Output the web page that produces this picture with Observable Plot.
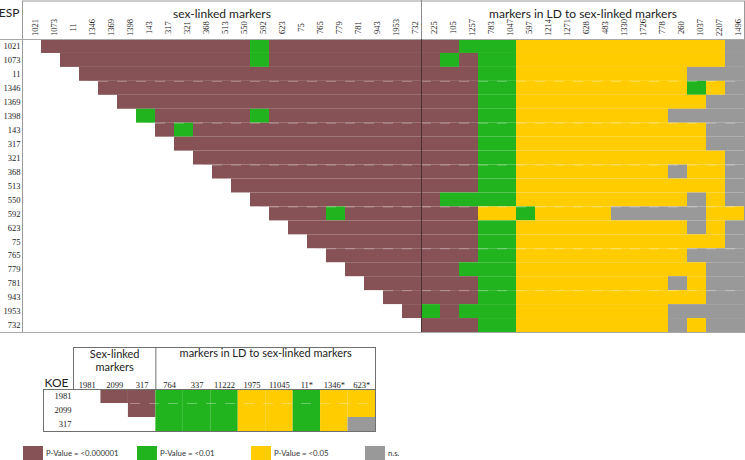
<!DOCTYPE html>
<html><head><meta charset="utf-8">
<script src="https://cdn.jsdelivr.net/npm/d3@7"></script>
<script src="https://cdn.jsdelivr.net/npm/@observablehq/plot@0.6"></script>
<style>
body{margin:0;background:#fff;width:745px;height:460px;overflow:hidden;font-family:Lato,sans-serif}
svg{display:block}
#legend{position:relative;width:745px;height:25px}
.item{position:absolute;top:11px;height:14px;display:flex;align-items:center}
.sw{width:20px;height:14px;margin-right:3px}
.lb{font-size:7.8px;color:#333;font-family:Lato,sans-serif}
</style></head><body>
<div id="top"></div><div id="bottom"></div><div id="legend"></div>
<script>
// ESP matrix
const espRows = ["1021","1073","11","1346","1369","1398","143","317","321","368","513","550","592","623","75","765","779","781","943","1953","732"];
const espSexCols = ["1021","1073","11","1346","1369","1398","143","317","321","368","513","550","592","623","75","765","779","781","943","1953","732"];
const espLdCols = ["225","105","1257","783","1047","597","1214","1271","628","483","1330","1726","778","260","1037","2207","1496"];
// codes: b = P<0.000001, g = P<0.01, y = P<0.05, n = n.s., . = empty
const espSexCells = [
  ".bbbbbbbbbbbgbbbbbbbb",
  "..bbbbbbbbbbgbbbbbbbb",
  "...bbbbbbbbbbbbbbbbbb",
  "....bbbbbbbbbbbbbbbbb",
  ".....bbbbbbbbbbbbbbbb",
  "......gbbbbbgbbbbbbbb",
  ".......bgbbbbbbbbbbbb",
  "........bbbbbbbbbbbbb",
  ".........bbbbbbbbbbbb",
  "..........bbbbbbbbbbb",
  "...........bbbbbbbbbb",
  "............bbbbbbbbb",
  ".............bbbgbbbb",
  "..............bbbbbbb",
  "...............bbbbbb",
  "................bbbbb",
  ".................bbbb",
  "..................bbb",
  "...................bb",
  "....................b",
  "....................."
];
const espLdCells = [
  "bbgggyyyyyyyyyyyn",
  "bgbggyyyyyyyyyyyn",
  "bbbggyyyyyyyyynnn",
  "bbbggyyyyyyyyygyn",
  "bbbggyyyyyyyyyynn",
  "bbbggyyyyyyyynnnn",
  "bbbggyyyyyyyyyynn",
  "bbbggyyyyyyyyyynn",
  "bbbggyyyyyyyyyyyn",
  "bbbggyyyyyyyynyyn",
  "bbbggyyyyyyyyyyyn",
  "bggggyyyyyyyyynyn",
  "bbbyygyyyynnnnnyy",
  "bbbggyyyyyyyyynyn",
  "bbbggyyyyyyyyyyyn",
  "bbbggyyyyyyyyynnn",
  "bbgggyyyyyyyyyynn",
  "bbbggyyyyyyyynynn",
  "bbbggyyyyyyyyyynn",
  "gbgggyyyyyyyynnnn",
  "bbbggyyyyyyyynynn"
];
const espDashedBoundaries = [3, 6, 9, 12, 15, 18];

// KOE matrix
const koeRows = ["1981","2099","317"];
const koeSexCols = ["1981","2099","317"];
const koeLdCols = ["764","337","11222","1975","11045","11*","1346*","623*"];
const koeCells = [
  ".bbgggyygyy",
  "..bgggyygyy",
  "...gggyygyn"
];
const koeDashedBoundaries = [1];

// legend
const codes = ["b","g","y","n"];
const labels = ["P-Value = <0.000001","P-Value = <0.01","P-Value = <0.05","n.s."];
const colors = ["#865255","#22b41e","#ffcc00","#999999"];

const serif = "'Liberation Serif', serif";
const sans = "Lato, sans-serif";

function toCells(rowStrings) {
  const out = [];
  rowStrings.forEach((s, r) => {
    [...s].forEach((ch, c) => {
      if (ch !== ".") out.push({x1: c, x2: c + 1, y1: r, y2: r + 1, code: ch});
    });
  });
  return out;
}

const espCols = espSexCols.concat(espLdCols);
const espCells = toCells(espSexCells.map((s, i) => s + espLdCells[i]));

const topPlot = Plot.plot({
  width: 745, height: 335,
  marginLeft: 22, marginRight: 1, marginTop: 39, marginBottom: 3,
  x: {domain: [0, espCols.length], axis: null},
  y: {domain: [0, espRows.length], reverse: true, axis: null},
  color: {domain: codes, range: colors},
  style: {background: "white", overflow: "visible"},
  marks: [
    Plot.rect(espCells, {x1: "x1", x2: "x2", y1: "y1", y2: "y2", fill: "code"}),
    Plot.ruleY(espDashedBoundaries, {stroke: "white", strokeOpacity: 0.32, strokeDasharray: "10,9"}),
    Plot.frame({stroke: "#9a9a9a", insetTop: -38.5}),
    Plot.ruleY([0, espRows.length], {stroke: "#a8a8a8", insetLeft: -22}),
    Plot.ruleX([espSexCols.length], {stroke: "#8a8a8a", insetTop: -39}),
    Plot.ruleX([espSexCols.length], {stroke: "#4a3335"}),
    Plot.text(espCols, {x: (d, i) => i + 0.5, text: d => d, frameAnchor: "top", dy: -12, rotate: -90, textAnchor: "middle", fontSize: 8.5, fontFamily: serif, fill: "#222"}),
    Plot.text(espRows, {y: (d, i) => i + 0.5, text: d => d, frameAnchor: "left", dx: -2, textAnchor: "end", fontSize: 8.5, fontFamily: serif, fill: "#222"}),
    Plot.text(["ESP"], {frameAnchor: "top-left", dx: -3, dy: -31, textAnchor: "end", fontSize: 12, fontFamily: sans, fill: "#222"}),
    Plot.text(["sex-linked markers"], {x: () => espSexCols.length / 2, frameAnchor: "top", dy: -30, fontSize: 12, fontFamily: sans, fill: "#222"}),
    Plot.text(["markers in LD to sex-linked markers"], {x: () => espSexCols.length + espLdCols.length / 2, frameAnchor: "top", dy: -30, fontSize: 12, fontFamily: sans, fill: "#222"})
  ]
});
document.getElementById("top").appendChild(topPlot);

const koeCols = koeSexCols.concat(koeLdCols);
const koeData = toCells(koeCells);

const bottomPlot = Plot.plot({
  width: 745, height: 100,
  marginLeft: 73, marginRight: 370, marginTop: 54, marginBottom: 4,
  x: {domain: [0, koeCols.length], axis: null},
  y: {domain: [0, koeRows.length], reverse: true, axis: null},
  color: {domain: codes, range: colors},
  style: {background: "white", overflow: "visible"},
  marks: [
    Plot.rect(koeData, {x1: "x1", x2: "x2", y1: "y1", y2: "y2", fill: "code"}),
    Plot.ruleY(koeDashedBoundaries, {stroke: "white", strokeOpacity: 0.32, strokeDasharray: "10,9"}),
    Plot.frame({stroke: "#6f6f6f", insetLeft: -30}),
    Plot.ruleX([0, koeSexCols.length, koeCols.length], {stroke: "#6f6f6f", insetTop: -42, insetBottom: 42}),
    Plot.ruleY([0], {stroke: "#6f6f6f", dy: -42}),
    Plot.text(koeCols, {x: (d, i) => i + 0.5, text: d => d, frameAnchor: "top", dy: -2, lineAnchor: "bottom", fontSize: 8.5, fontFamily: serif, fill: "#222"}),
    Plot.text(koeRows, {y: (d, i) => i + 0.5, text: d => d, frameAnchor: "left", dx: -2, textAnchor: "end", fontSize: 8.5, fontFamily: serif, fill: "#222"}),
    Plot.text(["KOE"], {frameAnchor: "top-left", dx: -5, dy: -3, textAnchor: "end", lineAnchor: "bottom", fontSize: 12, fontFamily: sans, fill: "#222"}),
    Plot.text(["Sex-linked\nmarkers"], {x: () => koeSexCols.length / 2, frameAnchor: "top", dy: -40, lineAnchor: "top", lineHeight: 1.15, fontSize: 11, fontFamily: sans, fill: "#222"}),
    Plot.text(["markers in LD to sex-linked markers"], {x: () => koeSexCols.length + koeLdCols.length / 2, frameAnchor: "top", dy: -40, lineAnchor: "top", fontSize: 11, fontFamily: sans, fill: "#222"})
  ]
});
document.getElementById("bottom").appendChild(bottomPlot);

// legend (HTML, below the charts)
const legendLefts = [23, 137, 251, 365];
const legend = document.getElementById("legend");
labels.forEach((lab, i) => {
  const item = document.createElement("div");
  item.className = "item";
  item.style.left = legendLefts[i] + "px";
  const sw = document.createElement("div");
  sw.className = "sw";
  sw.style.background = colors[i];
  const tx = document.createElement("span");
  tx.className = "lb";
  tx.textContent = lab;
  item.appendChild(sw);
  item.appendChild(tx);
  legend.appendChild(item);
});
</script>
</body></html>
